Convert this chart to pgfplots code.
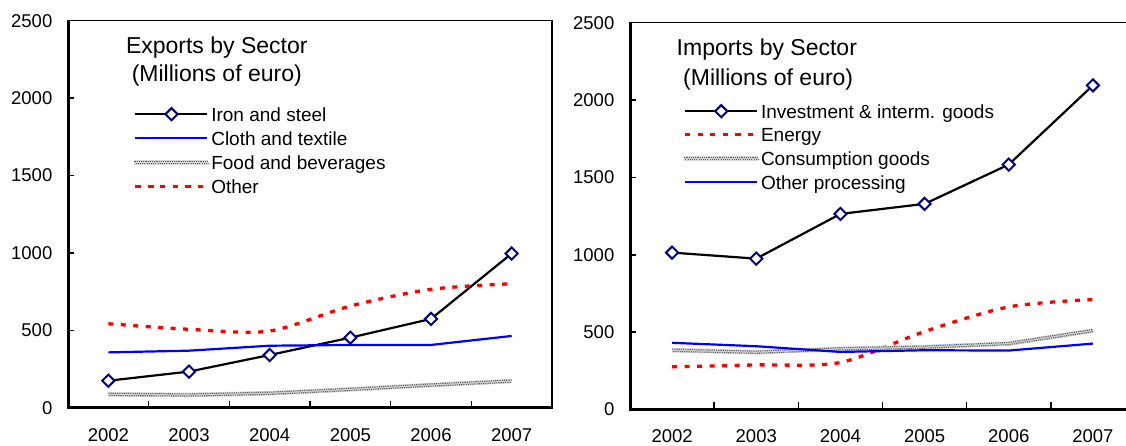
\documentclass[border=0pt]{standalone}
\usepackage{fontspec}
\setmainfont{Liberation Sans}
\usepackage{pgfplots}
\pgfplotsset{compat=1.18}

\definecolor{navymark}{RGB}{0,0,128}
\definecolor{lineblue}{RGB}{0,0,255}
\definecolor{linered}{RGB}{255,0,0}

\tikzset{
  hatchbase/.style={line width=4.6pt, color=black!16},
  hatchdots/.style={line width=1.1pt, color=black!65, dash pattern=on 1.1pt off 1.1pt},
}

\pgfplotsset{
  sectorpanel/.style={
    scale only axis,
    xmin=-0.5, xmax=5.5, ymin=0, ymax=2500,
    xtick={0,1,2,3,4,5},
    xticklabels={2002,2003,2004,2005,2006,2007},
    minor xtick={0.5,1.5,2.5,3.5,4.5},
    ytick={0,500,1000,1500,2000,2500},
    yticklabels={0,500,1000,1500,2000,2500},
    tick align=inside, xtick pos=left, ytick pos=left,
    major tick length=6pt, minor tick length=7pt,
    major x tick style={draw=none},
    minor x tick style={line width=1.5pt, black},
    ytick style={line width=1.5pt, black},
    axis line style={line width=1.5pt},
    ticklabel style={font=\fontsize{18.5}{22}\selectfont, inner sep=0pt},
    xticklabel style={yshift=-20pt},
    yticklabel style={xshift=-15.5pt},
    clip=false,
    legend cell align=left,
    legend style={draw=none, fill=none, anchor=north west, inner sep=0pt,
      column sep=0.5pt, font=\fontsize{19}{22}\selectfont,
      nodes={inner sep=0pt, text height=14pt, text depth=0pt}},
    legend image code/.code={
      \draw[mark repeat=2, mark phase=2, ##1]
        plot coordinates {(0pt,0pt) (36pt,0pt) (72pt,0pt)};
    },
  },
  diamondline/.style={black, line width=2.2pt, mark=square*, mark size=4.3pt,
    mark options={rotate=45, fill=white, draw=navymark, line width=2pt, solid}},
  blueline/.style={lineblue, line width=2.2pt, no marks},
  redline/.style={linered, line width=3.3pt, dash pattern=on 5pt off 7.5pt,
    smooth, tension=0.5, no marks},
  hatchlegend/.style={
    legend image code/.code={
      \draw[hatchbase] (-1pt,0pt) -- (73pt,0pt);
      \draw[hatchdots] (-1pt,1.1pt) -- (73pt,1.1pt);
      \draw[hatchdots, dash phase=1.1pt] (-1pt,-1.1pt) -- (73pt,-1.1pt);
    }},
}

% Exports by sector, millions of euro (2002 = 0, ..., 2007 = 5)
\pgfplotstableread{
x iron cloth food other
0 176 359  88 544
1 235 370  84 508
2 342 402  95 497
3 454 407 120 658
4 575 407 148 766
5 997 465 174 802
}\exports

% Imports by sector, millions of euro
\pgfplotstableread{
x invest energy consum otherproc
0 1014 276 383 431
1  975 288 370 409
2 1264 304 392 372
3 1329 504 403 383
4 1583 663 426 381
5 2095 711 510 426
}\imports

\begin{document}
\begin{tikzpicture}

\begin{axis}[sectorpanel, at={(68pt,38pt)}, anchor=south west,
  width=484pt, height=387.3pt,
  legend style={at={(0.1322,0.7772)}, row sep=10.2pt}]
  \addplot[diamondline] table[x=x, y=iron] {\exports};
  \addlegendentry{Iron and steel}
  \addplot[blueline] table[x=x, y=cloth] {\exports};
  \addlegendentry{Cloth and textile}
  \addplot[hatchbase, no marks, hatchlegend] table[x=x, y=food] {\exports};
  \addlegendentry{Food and beverages}
  \addplot[hatchdots, no marks, forget plot, yshift=1.1pt] table[x=x, y=food] {\exports};
  \addplot[hatchdots, dash phase=1.1pt, no marks, forget plot, yshift=-1.1pt] table[x=x, y=food] {\exports};
  \addplot[redline] table[x=x, y=other] {\exports};
  \addlegendentry{Other}
  \draw[line width=3pt] (rel axis cs:0,1) -- (rel axis cs:0,0) -- (rel axis cs:1,0);
\end{axis}

\begin{axis}[sectorpanel, at={(630pt,36.5pt)}, anchor=south west,
  width=505pt, height=386.8pt,
  legend style={at={(0.1024,0.7898)}, row sep=9.6pt}]
  \addplot[diamondline] table[x=x, y=invest] {\imports};
  \addlegendentry{Investment \& interm. goods}
  \addplot[redline] table[x=x, y=energy] {\imports};
  \addlegendentry{Energy}
  \addplot[hatchbase, no marks, hatchlegend] table[x=x, y=consum] {\imports};
  \addlegendentry{Consumption goods}
  \addplot[hatchdots, no marks, forget plot, yshift=1.1pt] table[x=x, y=consum] {\imports};
  \addplot[hatchdots, dash phase=1.1pt, no marks, forget plot, yshift=-1.1pt] table[x=x, y=consum] {\imports};
  \addplot[blueline] table[x=x, y=otherproc] {\imports};
  \addlegendentry{Other processing}
  \draw[line width=3pt] (rel axis cs:0,1) -- (rel axis cs:0,0) -- (rel axis cs:1,0);
\end{axis}

% panel titles
\node[anchor=base west, inner sep=0pt, font=\fontsize{23}{26}\selectfont]
  at (125.8pt,392.7pt) {Exports by Sector};
\node[anchor=base west, inner sep=0pt, font=\fontsize{23}{26}\selectfont]
  at (131.6pt,364.3pt) {(Millions of euro)};
\node[anchor=base west, inner sep=0pt, font=\fontsize{23}{26}\selectfont]
  at (676.5pt,390pt) {Imports by Sector};
\node[anchor=base west, inner sep=0pt, font=\fontsize{23}{26}\selectfont]
  at (683pt,360pt) {(Millions of euro)};

\pgfresetboundingbox
\path[use as bounding box] (0pt,0pt) rectangle (1126pt,446pt);
\end{tikzpicture}
\end{document}
